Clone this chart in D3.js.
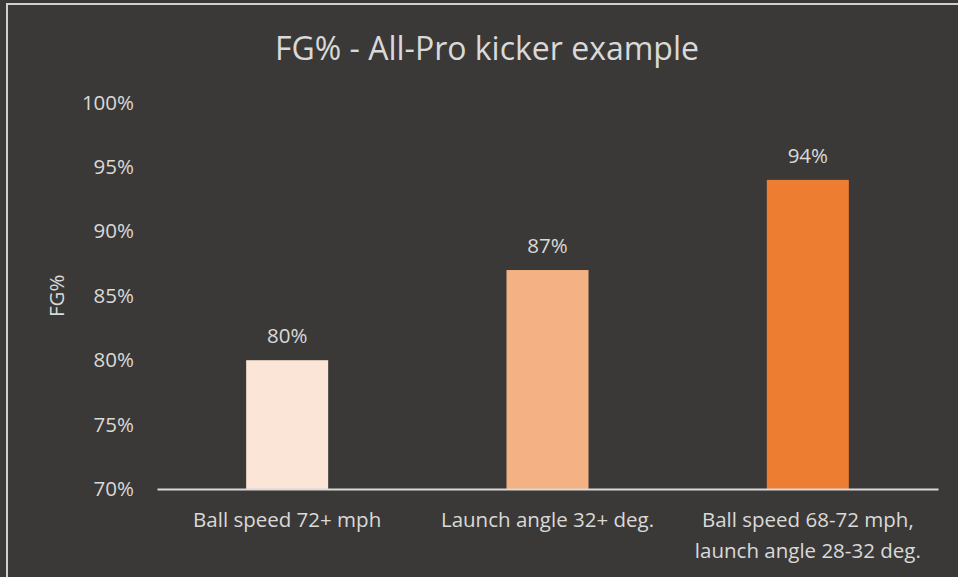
<!DOCTYPE html>
<html>
<head>
<meta charset="utf-8">
<script src="https://cdn.jsdelivr.net/npm/d3@7"></script>
<style>
  html, body { margin: 0; padding: 0; background: #3b3937; }
  svg { display: block; }
  text { font-family: "Open Sans", "Noto Sans", sans-serif; fill: #d9d9d9; }
</style>
</head>
<body>
<svg id="chart" width="958" height="577"></svg>
<script>
// Field-goal percentage by kick profile
const categories = [
  ["Ball speed 72+ mph"],
  ["Launch angle 32+ deg."],
  ["Ball speed 68-72 mph,", "launch angle 28-32 deg."]
];
const fgPct = [80, 87, 94];
const barColors = ["#fbe5d6", "#f4b183", "#ed7d31"];
const yTicks = [70, 75, 80, 85, 90, 95, 100];
const titleText = "FG% - All-Pro kicker example";
const yAxisTitle = "FG%";

const W = 958, H = 577;
const margin = { left: 157, right: 20, top: 102.6, bottom: H - 489 };
const labelSize = 20.5;

const svg = d3.select("#chart");

// background and frame
svg.append("rect").attr("width", W).attr("height", H).attr("fill", "#3b3937");
svg.append("rect")
  .attr("x", 7).attr("y", 4)
  .attr("width", W + 10).attr("height", H + 10)
  .attr("fill", "none").attr("stroke", "#d0d0d0").attr("stroke-width", 2);

const x = d3.scaleBand()
  .domain(d3.range(categories.length))
  .range([margin.left, W - margin.right])
  .paddingInner(0.685).paddingOuter(0.3425);

const y = d3.scaleLinear()
  .domain([70, 100])
  .range([H - margin.bottom, margin.top]);

// title
svg.append("text")
  .attr("x", 487).attr("y", 60)
  .attr("text-anchor", "middle")
  .attr("font-size", 32)
  .text(titleText);

// y axis labels
const yAxis = d3.axisLeft(y).tickValues(yTicks).tickSize(0).tickPadding(0)
  .tickFormat(d => d + "%");
const gy = svg.append("g").attr("transform", `translate(134,0)`).call(yAxis);
gy.select(".domain").remove();
gy.selectAll("text").attr("font-size", labelSize).attr("fill", "#d9d9d9")
  .style("font-family", "'Open Sans', sans-serif");

// y axis title
svg.append("text")
  .attr("transform", `translate(64,${(y(70) + y(100)) / 2}) rotate(-90)`)
  .attr("text-anchor", "middle")
  .attr("font-size", labelSize)
  .text(yAxisTitle);

// bars
svg.append("g").selectAll("rect")
  .data(fgPct)
  .join("rect")
  .attr("x", (d, i) => x(i))
  .attr("y", d => y(d))
  .attr("width", x.bandwidth())
  .attr("height", d => y(70) - y(d))
  .attr("fill", (d, i) => barColors[i]);

// value labels
svg.append("g").selectAll("text")
  .data(fgPct)
  .join("text")
  .attr("x", (d, i) => x(i) + x.bandwidth() / 2)
  .attr("y", d => y(d) - 17)
  .attr("text-anchor", "middle")
  .attr("font-size", labelSize)
  .text(d => d + "%");

// x axis baseline
const xAxis = d3.axisBottom(x).tickSize(0).tickFormat(() => "");
const gx = svg.append("g").attr("transform", `translate(0,${y(70)})`).call(xAxis);
gx.select(".domain").attr("stroke", "#d9d9d9").attr("stroke-width", 2);

// category labels
const catG = svg.append("g");
categories.forEach((lines, i) => {
  const t = catG.append("text")
    .attr("x", x(i) + x.bandwidth() / 2)
    .attr("y", 527)
    .attr("text-anchor", "middle")
    .attr("font-size", labelSize);
  lines.forEach((ln, j) => {
    t.append("tspan")
      .attr("x", x(i) + x.bandwidth() / 2)
      .attr("dy", j === 0 ? 0 : 31)
      .text(ln);
  });
});
</script>
</body>
</html>
